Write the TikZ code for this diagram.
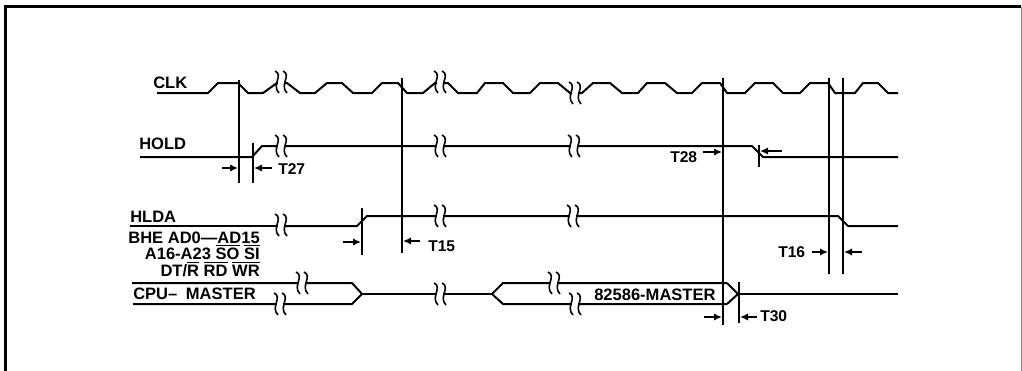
\documentclass[tikz,border=0pt]{standalone}
\usepackage{fontspec}
\setmainfont{Liberation Sans}
\usetikzlibrary{arrows.meta}
\begin{document}
\begin{tikzpicture}[x=0.75pt,y=-0.75pt,
    sig/.style={line width=1.5pt, line join=round},
    tick/.style={line width=1.5pt},
    dim/.style={line width=1.2pt, -{Latex[length=6pt,width=5.5pt]}},
    lbl/.style={anchor=base west, inner sep=0pt, font=\bfseries\fontsize{12.4}{13}\selectfont},
    lblr/.style={lbl, anchor=base east},
    tlbl/.style={lbl, font=\bfseries\fontsize{11.7}{13}\selectfont}]

    \useasboundingbox (0,0) rectangle (1022,371);

    % Rahmen
    \draw[line width=2.6pt] (5.5,371) -- (5.5,6.5) -- (1021,6.5);
    \draw[line width=0.6pt, gray] (1021,6.5) -- (1021,371);

    % Unterbrechung im Signal
    \newcommand{\brk}[2]{%
        \fill[white] (#1-3,#2-4) rectangle (#1+3,#2+4);
        \draw[line width=1.2pt] (#1-6,#2-11) .. controls (#1+3,#2-7) and (#1-10,#2+3) .. (#1-2,#2+11);
        \draw[line width=1.2pt] (#1+2,#2-11) .. controls (#1+11,#2-7) and (#1-2,#2+3) .. (#1+6,#2+11);
    }

    % CLK
    \draw[sig] (157,93) -- (208,93) -- (218,83) -- (238,83) -- (248,93) -- (263,93) -- (277,83)
        -- (287,83) -- (300,93) -- (315,93) -- (327,83) -- (342,83) -- (353,93) -- (372,93)
        -- (382,83) -- (398,83) -- (407,93) -- (423,93) -- (435,83) -- (448,83) -- (458,93)
        -- (477,93) -- (485,83) -- (503,83) -- (513,93) -- (530,93) -- (540,83) -- (558,83)
        -- (570,93) -- (582,93) -- (593,83) -- (610,83) -- (622,93) -- (638,93) -- (647,83)
        -- (665,83) -- (677,93) -- (692,93) -- (702,83) -- (720,83) -- (727,93) -- (745,93)
        -- (755,83) -- (773,83) -- (783,93) -- (800,93) -- (810,83) -- (828,83) -- (835,93)
        -- (855,93) -- (863,83) -- (878,83) -- (888,93) -- (898,93);
    \brk{281}{82}
    \brk{440}{82}
    \brk{575}{93}

    % HOLD
    \draw[sig] (140,157) -- (252,157) -- (262,146) -- (752,146) -- (763,157) -- (898,157);
    \brk{281}{146}
    \brk{440}{146}
    \brk{574}{146}

    % HLDA
    \draw[line width=2.2pt] (130,226) -- (275,226);
    \draw[sig] (275,226) -- (357,226) -- (367,216) -- (838,216) -- (848,226) -- (898,226);
    \brk{281}{225}
    \brk{440}{216}
    \brk{573}{216}

    % Bus
    \draw[sig] (132,283) -- (352,283) -- (362,294) -- (352,304) -- (133,304);
    \draw[sig] (362,294) -- (492,294);
    \draw[sig] (727,283) -- (503,283) -- (492,294) -- (503,304) -- (727,304);
    \draw[sig] (727,283) -- (738,294) -- (727,304);
    \draw[sig] (738,294) -- (898,294);
    \brk{302}{283}
    \brk{280}{304}
    \brk{440}{294}
    \brk{554}{283}
    \brk{575}{304}

    % Senkrechte Linien
    \draw[tick] (239,80) -- (239,183);
    \draw[tick] (253,143) -- (253,183);
    \draw[tick] (402,78) -- (402,253);
    \draw[tick] (362,208) -- (362,255);
    \draw[tick] (723,78) -- (723,325);
    \draw[tick] (739,282) -- (739,323);
    \draw[tick] (759,145) -- (759,167);
    \draw[tick] (829,78) -- (829,274);
    \draw[tick] (843,78) -- (843,274);

    % Pfeile
    \draw[dim] (222,168) -- (238,168);
    \draw[dim] (272,168) -- (254,168);
    \draw[dim] (703,152) -- (722,152);
    \draw[dim] (782,151) -- (760,151);
    \draw[dim] (343,242) -- (361,242);
    \draw[dim] (420,241) -- (403,241);
    \draw[dim] (812,252) -- (828,252);
    \draw[dim] (862,252) -- (844,252);
    \draw[dim] (704,317) -- (722,317);
    \draw[dim] (757,317) -- (740,317);

    % Beschriftung
    \node[lbl] (clk) at (153,88) {CLK};
    \node[lbl] (hold) at (139,149) {HOLD};
    \node[lbl] (hlda) at (130,222) {HLDA};
    \node[lblr] (addr) at (260,243) {BHE AD0—AD15};
    \node[lblr] (high) at (260,259) {A16-A23 $\overline{\hbox{SO}}$ $\overline{\hbox{SI}}$};
    \node[lblr] (ctrl) at (260,276) {DT/$\overline{\hbox{R}}$ $\overline{\hbox{RD}}$ $\overline{\hbox{WR}}$};
    \node[lbl] (cpu) at (133,299) {CPU--\kern3pt{} MASTER};
    \node[lbl] (master) at (594,300) {82586-MASTER};
    \node[tlbl] (t27) at (278,174) {T27};
    \node[tlbl] (t28) at (670,162) {T28};
    \node[tlbl] (t15) at (428,251) {T15};
    \node[tlbl] (t16) at (778,257) {T16};
    \node[tlbl] (t30) at (760,321) {T30};

\end{tikzpicture}
\end{document}
